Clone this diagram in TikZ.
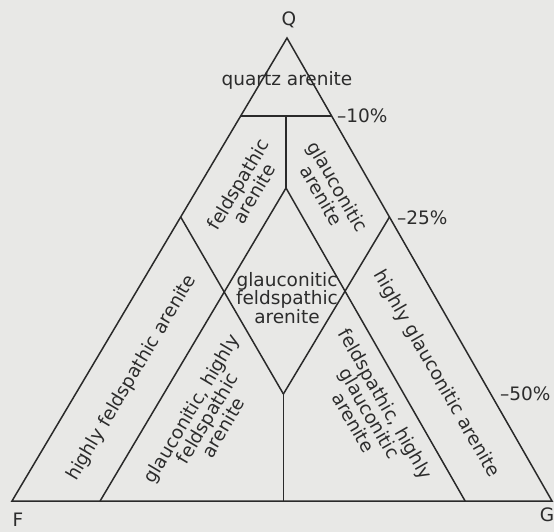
\documentclass[tikz,border=0pt]{standalone}
\usepackage{fontspec}
\setmainfont{DejaVu Sans}
\definecolor{paper}{HTML}{E8E8E6}
\definecolor{ink}{HTML}{2A2A2A}
\definecolor{txt}{HTML}{2C2C2C}
\begin{document}
\begin{tikzpicture}[x=1pt,y=-1pt,
  edge/.style={draw=ink, line width=1.5pt, line join=miter},
  lab/.style={text=txt, font=\fontsize{18.5pt}{18.5pt}\selectfont, inner sep=0pt, align=center},
  pct/.style={lab, anchor=west}]
\fill[paper] (0,0) rectangle (554,532);
\useasboundingbox (0,0) rectangle (554,532);
% corners
\coordinate (Q) at (287,38);
\coordinate (F) at (12,501);
\coordinate (G) at (552,501);
% inner points
\coordinate (A) at (240.7,116);
\coordinate (B) at (331.6,116);
\coordinate (M) at (286,116);
\coordinate (D) at (286,188);
\coordinate (L) at (180.7,217);
\coordinate (R) at (389.5,217);
\coordinate (Bt) at (283.4,394);
\coordinate (P1) at (100.1,501);
\coordinate (P2) at (465.1,501);
\coordinate (P3) at (283.4,501);
% lines
\draw[edge] (Q) -- (F) -- (G) -- cycle;
\draw[edge] (A) -- (B);
\draw[edge] (M) -- (D);
\draw[edge] (D) -- (P1);
\draw[edge] (D) -- (P2);
\draw[edge] (L) -- (Bt);
\draw[edge] (R) -- (Bt);
\draw[edge] (Bt) -- (P3);
% corner labels
\node[lab] (tQ) at (289,20) {Q};
\node[lab] (tF) at (18,520) {F};
\node[lab] (tG) at (547,515) {G};
% percentages
\node[pct] (p10) at (337,116) {–10\%};
\node[pct] (p25) at (397,218) {–25\%};
\node[pct] (p50) at (500,394) {–50\%};
% field labels
\node[lab] (qa) at (287,80) {quartz arenite};
\node[lab, rotate=59.3] (fa) at (246,189) {feldspathic\\arenite};
\node[lab, rotate=-60.2] (ga) at (330,191) {glauconitic\\arenite};
\node[lab] (gfa) at (287,298) {glauconitic\\feldspathic\\arenite};
\node[lab, rotate=59.3] (hfa) at (132,378) {highly feldspathic arenite};
\node[lab, rotate=59.3] (ghfa) at (207,418) {glauconitic, highly\\feldspathic\\arenite};
\node[lab, rotate=-60.2] (fhga) at (370,413) {feldspathic, highly\\glauconitic\\arenite};
\node[lab, rotate=-60.2] (hga) at (436,374) {highly glauconitic arenite};
\end{tikzpicture}
\end{document}
